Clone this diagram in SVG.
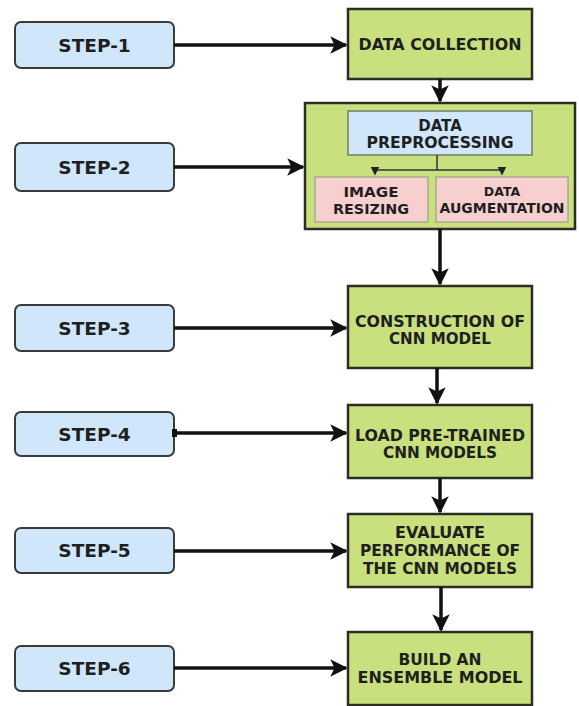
<svg xmlns="http://www.w3.org/2000/svg" width="579" height="706" viewBox="0 0 579 706">
<defs>
<marker id="ah" markerWidth="5" markerHeight="5" refX="4.5" refY="2.5" orient="auto" markerUnits="strokeWidth">
<path d="M0,0 L5,2.5 L0,5 L1.2,2.5 Z" fill="#111"/>
</marker>
<marker id="sh" markerWidth="6" markerHeight="6" refX="5" refY="3" orient="auto" markerUnits="strokeWidth">
<path d="M0,0 L6,3 L0,6 Z" fill="#222"/>
</marker>
</defs>
<style>
.step{fill:#cfe6fb;stroke:#3a3a3a;stroke-width:2}
.green{fill:#c8e07e;stroke:#2a2f22;stroke-width:2.5}
.blue{fill:#cfe6fb;stroke:#6f7d66;stroke-width:1.5}
.pink{fill:#f8cfcf;stroke:#9aa088;stroke-width:1.2}
text{font-family:"DejaVu Sans","Liberation Sans",Arial,sans-serif;font-weight:bold;fill:#1f1f1f;text-anchor:middle}
.sl{font-size:18.5px}
.bl{font-size:15px}
.con{stroke:#111;stroke-width:3.5;fill:none;marker-end:url(#ah)}
.small{stroke:#333;stroke-width:1.5;fill:none}
</style>
<rect width="579" height="706" fill="#fff"/>

<g id="step1"><rect class="step" x="15" y="22" width="159" height="46" rx="6"/><text class="sl" x="94.5" y="52">STEP-1</text></g>
<g id="step2"><rect class="step" x="15" y="143" width="159" height="48" rx="6"/><text class="sl" x="94.5" y="174">STEP-2</text></g>
<g id="step3"><rect class="step" x="15" y="305" width="159" height="46" rx="6"/><text class="sl" x="94.5" y="335">STEP-3</text></g>
<g id="step4"><rect class="step" x="15" y="412" width="159" height="44" rx="6"/><text class="sl" x="94.5" y="441">STEP-4</text></g>
<g id="step5"><rect class="step" x="15" y="528" width="159" height="45" rx="6"/><text class="sl" x="94.5" y="557">STEP-5</text></g>
<g id="step6"><rect class="step" x="15" y="646" width="159" height="45" rx="6"/><text class="sl" x="94.5" y="675">STEP-6</text></g>

<g id="data-collection"><rect class="green" x="348" y="9" width="184" height="70"/><text class="bl" x="440" y="50" textLength="163" lengthAdjust="spacingAndGlyphs">DATA COLLECTION</text></g>

<g id="preprocessing-group">
<rect class="green" x="305" y="103" width="270" height="126"/>
<g id="data-preprocessing"><rect class="blue" x="348" y="111" width="184" height="44"/><text class="bl" x="440" y="131">DATA</text><text class="bl" x="440" y="148" textLength="147" lengthAdjust="spacingAndGlyphs">PREPROCESSING</text></g>
<g id="image-resizing"><rect class="pink" x="315" y="177" width="113" height="45"/><text class="bl" x="371" y="197" style="font-size:14.3px" textLength="55" lengthAdjust="spacingAndGlyphs">IMAGE</text><text class="bl" x="371" y="214" style="font-size:14.3px" textLength="76" lengthAdjust="spacingAndGlyphs">RESIZING</text></g>
<g id="data-augmentation"><rect class="pink" x="436" y="177" width="132" height="45"/><text class="bl" x="502" y="196" style="font-size:12.5px">DATA</text><text class="bl" x="502" y="213" style="font-size:13.6px" textLength="125" lengthAdjust="spacingAndGlyphs">AUGMENTATION</text></g>
</g>

<g id="construction"><rect class="green" x="348" y="286" width="184" height="82"/><text class="bl" x="440" y="327" textLength="170" lengthAdjust="spacingAndGlyphs">CONSTRUCTION OF</text><text class="bl" x="440" y="344" textLength="102" lengthAdjust="spacingAndGlyphs">CNN MODEL</text></g>
<g id="load"><rect class="green" x="348" y="405" width="184" height="73"/><text class="bl" x="440" y="441" textLength="170" lengthAdjust="spacingAndGlyphs">LOAD PRE-TRAINED</text><text class="bl" x="440" y="458" textLength="114" lengthAdjust="spacingAndGlyphs">CNN MODELS</text></g>
<g id="evaluate"><rect class="green" x="348" y="514" width="184" height="73"/><text class="bl" x="440" y="538" textLength="90" lengthAdjust="spacingAndGlyphs">EVALUATE</text><text class="bl" x="440" y="556" textLength="160" lengthAdjust="spacingAndGlyphs">PERFORMANCE OF</text><text class="bl" x="440" y="574" textLength="154" lengthAdjust="spacingAndGlyphs">THE CNN MODELS</text></g>
<g id="build"><rect class="green" x="348" y="632" width="184" height="73"/><text class="bl" x="440" y="665" textLength="83" lengthAdjust="spacingAndGlyphs">BUILD AN</text><text class="bl" x="440" y="683" textLength="165" lengthAdjust="spacingAndGlyphs">ENSEMBLE MODEL</text></g>

<g id="connectors">
<path class="con" d="M174,45 H346"/>
<path class="con" d="M174,167 H303"/>
<path class="con" d="M174,328 H346"/>
<rect x="172" y="429" width="5" height="8" fill="#111"/>
<path class="con" d="M174,433 H346"/>
<path class="con" d="M174,551 H346"/>
<path class="con" d="M174,668 H346"/>
<path class="con" d="M440,79 V101"/>
<path class="con" d="M440,229 V284"/>
<path class="con" d="M437,368 V403"/>
<path class="con" d="M440,478 V512"/>
<path class="con" d="M441,587 V630"/>
<path class="small" d="M437,155 V170"/>
<path class="small" d="M375,170 H502"/>
<path class="small" d="M375,170 V174" marker-end="url(#sh)"/>
<path class="small" d="M502,170 V174" marker-end="url(#sh)"/>
</g>
</svg>
